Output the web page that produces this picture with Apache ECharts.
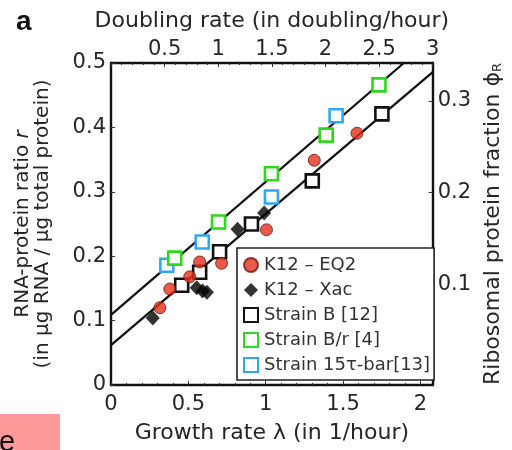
<!DOCTYPE html>
<html>
<head>
<meta charset="utf-8">
<script src="https://cdn.jsdelivr.net/npm/echarts@6/dist/echarts.min.js"></script>
<style>html,body{margin:0;padding:0;background:#fff}#c{width:512px;height:450px}</style>
</head>
<body>
<div id="c"></div>
<script>
// ---- data (growth rate λ, RNA/protein ratio r) ----
const k12EQ2 = [[1.590,0.391],[1.314,0.349],[1.005,0.241],[0.715,0.189],[0.573,0.191],[0.509,0.168],[0.380,0.149],[0.316,0.120]];
const k12Xac = [[0.990,0.267],[0.818,0.242],[0.592,0.146],[0.620,0.144],[0.554,0.151],[0.270,0.104]];
const strainB = [[1.751,0.421],[1.301,0.317],[0.908,0.250],[0.702,0.207],[0.573,0.175],[0.457,0.155]];
const strainBr = [[1.732,0.466],[1.391,0.388],[1.037,0.328],[0.695,0.253],[0.412,0.197]];
const strain15 = [[1.455,0.418],[1.037,0.292],[0.590,0.222],[0.361,0.186]];
const upperLine = [[0,0.109],[1.893,0.5]];
const lowerLine = [[0,0.062],[2.0794,0.486]];
const bottomTicks = [0,0.5,1,1.5,2];
const topTicks = [0.5,1,1.5,2,2.5,3];
const leftTicks = [0,0.1,0.2,0.3,0.4,0.5];
const rightTicks = [0.1,0.2,0.3];
const legendNames = ['K12 – EQ2','K12 – Xac','Strain B [12]','Strain B/r [4]','Strain 15τ-bar[13]'];

const FONT = '"DejaVu Sans", Verdana, sans-serif';
const TXT = '#262626';
const chart = echarts.init(document.getElementById('c'), null, {renderer:'canvas'});
const lineStyle = {color:'#111', width:2.3};
const axisCommon = {
  axisLine:{show:true, onZero:false, lineStyle:{color:'#111', width:2.4}},
  axisTick:{show:true, inside:true, length:4, lineStyle:{color:'#333', width:1}},
  splitLine:{show:false},
  axisLabel:{color:TXT, fontFamily:FONT, fontSize:21},
  nameTextStyle:{color:TXT, fontFamily:FONT, fontSize:21}
};
function sq(name, data, col){
  return {name, type:'scatter', data, symbol:'rect', symbolSize:13,
    itemStyle:{color:'#fff', borderColor:col, borderWidth:2.6, opacity:1}, z:3};
}
const fmt = v => String(+(+v).toFixed(2));
chart.setOption({
  animation:false,
  backgroundColor:'#fff',
  grid:{left:111, top:63, right:78, bottom:65, show:false},
  xAxis:[
    Object.assign({}, axisCommon, {type:'value', position:'bottom', min:0, max:3*Math.LN2, interval:0.5,
      name:'Growth rate λ (in 1/hour)', nameLocation:'middle', nameGap:37,
      nameTextStyle:{color:TXT, fontFamily:FONT, fontSize:22},
      minorTick:{show:true, splitNumber:5, length:2, lineStyle:{color:'#333'}},
      axisLabel:Object.assign({}, axisCommon.axisLabel, {margin:9, customValues:bottomTicks, formatter:fmt}),
      axisTick:Object.assign({}, axisCommon.axisTick, {customValues:bottomTicks})}),
    Object.assign({}, axisCommon, {type:'value', position:'top', min:0, max:3, interval:0.5,
      name:'Doubling rate (in doubling/hour)', nameLocation:'middle', nameGap:31,
      nameTextStyle:{color:TXT, fontFamily:FONT, fontSize:22},
      minorTick:{show:true, splitNumber:5, length:2, lineStyle:{color:'#333'}},
      axisLabel:Object.assign({}, axisCommon.axisLabel, {margin:3, customValues:topTicks, formatter:fmt})})
  ],
  yAxis:[
    Object.assign({}, axisCommon, {type:'value', position:'left', min:0, max:0.5, interval:0.1,
      name:'RNA-protein ratio {i|r}\n(in μg RNA / μg total protein)', nameLocation:'middle', nameGap:58,
      nameTextStyle:{color:TXT, fontFamily:FONT, fontSize:20, lineHeight:20,
        rich:{i:{fontStyle:'italic', fontFamily:FONT, fontSize:20, color:TXT, lineHeight:20}}},
      axisLabel:Object.assign({}, axisCommon.axisLabel, {margin:5, customValues:leftTicks, formatter:fmt})}),
    Object.assign({}, axisCommon, {type:'value', position:'right', min:-0.0093, max:0.3412,
      name:'Ribosomal protein fraction {p|ϕ}{s|R}', nameLocation:'middle', nameGap:41,
      nameTextStyle:{color:TXT, fontFamily:FONT, fontSize:22,
        rich:{p:{fontFamily:FONT, fontSize:22, color:TXT}, s:{fontFamily:FONT, fontSize:13, color:TXT, verticalAlign:'bottom', padding:[8,0,0,0]}}},
      axisTick:Object.assign({}, axisCommon.axisTick, {customValues:rightTicks}),
      axisLabel:Object.assign({}, axisCommon.axisLabel, {margin:5, customValues:rightTicks, formatter:fmt})})
  ],
  legend:{
    data:legendNames, orient:'vertical', left:237, top:248, padding:[8,4,6,6],
    backgroundColor:'#fff', borderColor:'#222', borderWidth:1.6, borderRadius:0,
    itemWidth:14, itemHeight:14, itemGap:7,
    textStyle:{color:'#333', fontFamily:FONT, fontSize:18, padding:[0,0,0,1]}
  },
  series:[
    {name:'upper', type:'line', data:upperLine, symbol:'none', lineStyle, z:1, silent:true},
    {name:'lower', type:'line', data:lowerLine, symbol:'none', lineStyle, z:1, silent:true},
    sq(legendNames[2], strainB, '#111'),
    sq(legendNames[4], strain15, '#2fa8ee'),
    sq(legendNames[3], strainBr, '#2fd81e'),
    {name:legendNames[1], type:'scatter', data:k12Xac, symbol:'diamond', symbolSize:[14,15],
      itemStyle:{color:'#000'}, z:4},
    {name:legendNames[0], type:'scatter', data:k12EQ2, symbol:'circle', symbolSize:12,
      itemStyle:{color:'#e5301c', borderColor:'#6a1a10', borderWidth:1}, z:5}
  ],
  graphic:[
    {type:'text', left:16, top:8, style:{text:'a', font:'bold 28px "Liberation Sans", Arial, sans-serif', fill:'#111'}},
    {type:'rect', shape:{x:0, y:414, width:60, height:36}, style:{fill:'#ff9a9a'}, z:0},
    {type:'text', x:-1, y:457, style:{text:'e', font:'29px "Liberation Sans", Arial, sans-serif', fill:'#111', textVerticalAlign:'bottom'}, z:1}
  ]
});
</script>
</body>
</html>
